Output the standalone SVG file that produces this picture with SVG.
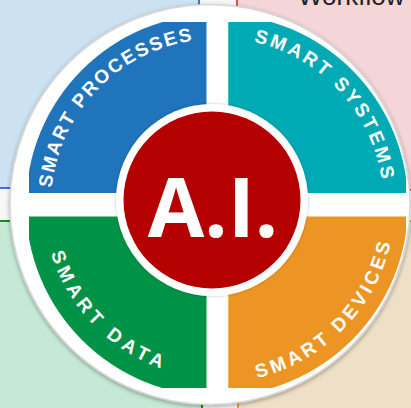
<svg xmlns="http://www.w3.org/2000/svg" width="411" height="408" viewBox="0 0 411 408">
  <style>
    .arc { font-family: "Liberation Sans", Arial, sans-serif; font-weight: bold; font-size: 19px; fill: #ffffff; }
    .ai { font-family: "Open Sans", "Liberation Sans", Arial, sans-serif; font-weight: bold; font-size: 82px; fill: #ffffff; }
    .wf { font-family: "Liberation Sans", Arial, sans-serif; font-size: 26px; fill: #222222; }
  </style>
  <defs>
    <clipPath id="disc">
      <circle cx="217" cy="205" r="191"/>
    </clipPath>
    <filter id="shadow" x="-10%" y="-10%" width="120%" height="120%">
      <feDropShadow dx="0" dy="1.5" stdDeviation="2" flood-color="#000000" flood-opacity="0.35"/>
    </filter>
    <filter id="soft" x="-10%" y="-10%" width="120%" height="120%">
      <feDropShadow dx="0" dy="0" stdDeviation="1.5" flood-color="#000000" flood-opacity="0.25"/>
    </filter>
    <path id="pProc" d="M101.6,324.5 A166,166 0 0 1 332.4,85.5"/>
    <path id="pSys" d="M104.6,81.4 A166,166 0 0 1 329.4,327.3"/>
    <path id="pData" d="M91.2,76.5 A180,180 0 0 0 342.8,333.5"/>
    <path id="pDev" d="M91.7,334.2 A180,180 0 0 0 342.3,75.8"/>
  </defs>

  <g id="background">
    <rect x="0" y="0" width="411" height="408" fill="#f7f7f7"/>
    <rect x="-2" y="-2" width="201" height="190" fill="#cce2f1" stroke="#3c6fe6" stroke-width="2"/>
    <rect x="237" y="-2" width="176" height="192" fill="#f4d5d8" stroke="#e04848" stroke-width="2"/>
    <rect x="-2" y="221" width="204" height="189" fill="#c6e9d6" stroke="#1c8a1c" stroke-width="2"/>
    <rect x="238" y="221" width="175" height="189" fill="#eedfc7" stroke="#e8a030" stroke-width="2"/>
    <text class="wf" x="298" y="4.5">Workflow</text>
  </g>

  <g id="ring">
    <circle cx="210" cy="204.5" r="200" fill="#ffffff" stroke="#d6d6d6" stroke-width="1.5" filter="url(#shadow)"/>
  </g>

  <g id="connectors"/>

  <g id="smart-processes">
    <rect x="29" y="22" width="177.5" height="171" fill="#1f74bb" clip-path="url(#disc)"/>
    <text class="arc" letter-spacing="2" text-anchor="middle"><textPath href="#pProc" startOffset="50%">SMART PROCESSES</textPath></text>
  </g>

  <g id="smart-systems">
    <rect x="228.3" y="22" width="177.7" height="171" fill="#00aab5" clip-path="url(#disc)"/>
    <text class="arc" letter-spacing="3" text-anchor="middle"><textPath href="#pSys" startOffset="50%">SMART SYSTEMS</textPath></text>
  </g>

  <g id="smart-data">
    <rect x="29" y="216.5" width="177.5" height="171.5" fill="#009246" clip-path="url(#disc)"/>
    <text class="arc" letter-spacing="4.7" text-anchor="middle"><textPath href="#pData" startOffset="50%">SMART DATA</textPath></text>
  </g>

  <g id="smart-devices">
    <rect x="228.3" y="216.5" width="177.7" height="171.5" fill="#ed9524" clip-path="url(#disc)"/>
    <text class="arc" letter-spacing="3.6" text-anchor="middle"><textPath href="#pDev" startOffset="50%">SMART DEVICES</textPath></text>
  </g>

  <g id="ai">
    <circle cx="212" cy="200" r="96" fill="#ffffff" filter="url(#soft)"/>
    <circle cx="212" cy="200" r="88.5" fill="#b50000"/>
    <text class="ai" x="213" y="237" text-anchor="middle">A.I.</text>
  </g>
</svg>
